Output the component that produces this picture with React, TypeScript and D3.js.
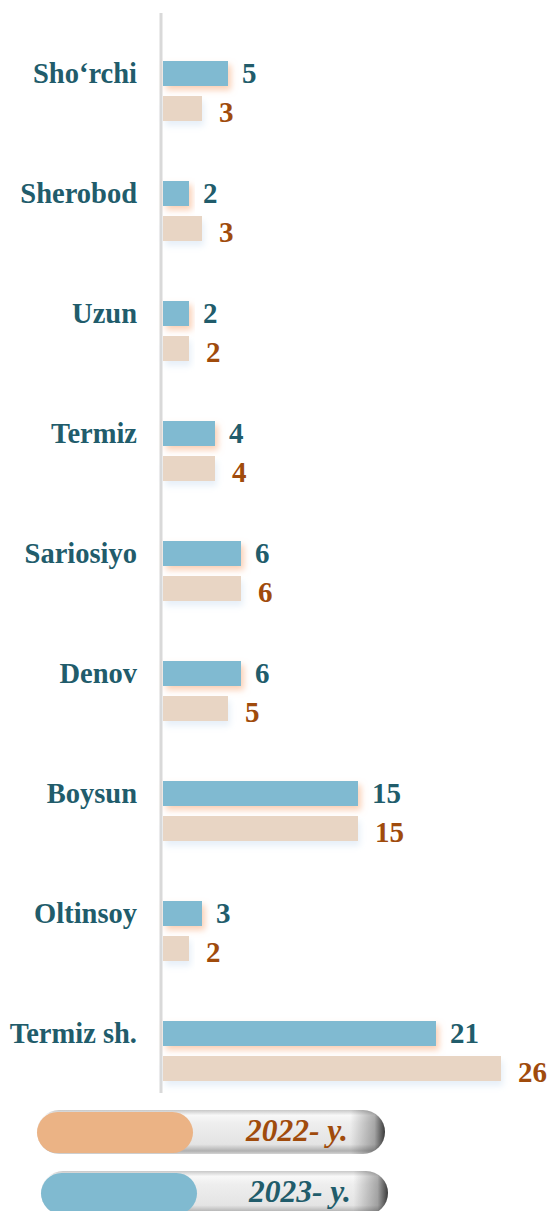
import * as d3 from "d3";

const categories = [
  "Sho‘rchi",
  "Sherobod",
  "Uzun",
  "Termiz",
  "Sariosiyo",
  "Denov",
  "Boysun",
  "Oltinsoy",
  "Termiz sh.",
];
const values2023 = [5, 2, 2, 4, 6, 6, 15, 3, 21];
const values2022 = [3, 3, 2, 4, 6, 5, 15, 2, 26];
const legendLabels = ["2022- y.", "2023- y."];

const font = "'Liberation Serif', 'Times New Roman', serif";
const teal = "#215c6b";
const brown = "#a04b0c";
const blueBar = "#80bad1";
const beigeBar = "#e8d5c4";

export default function App() {
  const width = 552;
  const height = 1211;
  const x0 = 163;
  const barH = 25;

  const xScale = d3.scaleLinear().domain([0, 26]).range([0, 338]);
  const yScale = d3
    .scaleBand()
    .domain(categories)
    .range([61, 61 + 120 * categories.length]);

  const legend = [
    { label: legendLabels[0], color: "#ebb385", text: brown, x: 37, y: 1110, w: 348 },
    { label: legendLabels[1], color: "#80bad0", text: teal, x: 41, y: 1171, w: 347 },
  ];

  return (
    <svg
      width={width}
      height={height}
      style={{ position: "absolute", left: 0, top: 0, background: "#fff" }}
    >
      <defs>
        <filter id="glowBlue" x="-20%" y="-50%" width="140%" height="220%">
          <feDropShadow dx={3} dy={4} stdDeviation={3} floodColor="#f7a877" floodOpacity={0.55} />
        </filter>
        <filter id="glowBeige" x="-20%" y="-50%" width="140%" height="220%">
          <feDropShadow dx={2} dy={5} stdDeviation={3} floodColor="#c9dbef" floodOpacity={0.45} />
        </filter>
        <linearGradient id="tube" x1="0" y1="0" x2="0" y2="1">
          <stop offset="0%" stopColor="#c8c8c8" />
          <stop offset="12%" stopColor="#f8f8f8" />
          <stop offset="30%" stopColor="#eeeeee" />
          <stop offset="78%" stopColor="#e4e4e4" />
          <stop offset="93%" stopColor="#b0b0b0" />
          <stop offset="100%" stopColor="#d4d4d4" />
        </linearGradient>
        <linearGradient id="tubeEnd" x1="0" y1="0" x2="1" y2="0">
          <stop offset="0%" stopColor="#000" stopOpacity={0} />
          <stop offset="90%" stopColor="#000" stopOpacity={0} />
          <stop offset="97%" stopColor="#000" stopOpacity={0.3} />
          <stop offset="100%" stopColor="#000" stopOpacity={0.75} />
        </linearGradient>
      </defs>

      <rect x={159.5} y={13} width={3} height={1080} fill="#d9d9d9" />

      {categories.map((c, i) => {
        const y = yScale(c) as number;
        const w23 = xScale(values2023[i]);
        const w22 = xScale(values2022[i]);
        return (
          <g key={c}>
            <text
              x={137}
              y={y + barH / 2 + 9}
              textAnchor="end"
              fontFamily={font}
              fontWeight="bold"
              fontSize={28.5}
              fill={teal}
            >
              {c}
            </text>
            <rect x={x0} y={y} width={w23} height={barH} fill={blueBar} filter="url(#glowBlue)" />
            <rect x={x0} y={y + 35} width={w22} height={barH} fill={beigeBar} filter="url(#glowBeige)" />
            <text
              x={x0 + w23 + 14}
              y={y + barH - 3}
              fontFamily={font}
              fontWeight="bold"
              fontSize={29}
              fill={teal}
            >
              {values2023[i]}
            </text>
            <text
              x={x0 + w22 + 17}
              y={y + 35 + barH + 1}
              fontFamily={font}
              fontWeight="bold"
              fontSize={29}
              fill={brown}
            >
              {values2022[i]}
            </text>
          </g>
        );
      })}

      {legend.map((l) => (
        <g key={l.label}>
          <rect x={l.x} y={l.y} width={l.w} height={44} rx={22} fill="url(#tube)" />
          <rect x={l.x} y={l.y} width={l.w} height={44} rx={22} fill="url(#tubeEnd)" />
          <rect x={l.x} y={l.y + 2} width={156} height={41} rx={20.5} fill={l.color} />
          <text
            x={l.x + l.w - 37}
            y={l.y + 31}
            textAnchor="end"
            fontFamily={font}
            fontWeight="bold"
            fontStyle="italic"
            fontSize={31.5}
            fill={l.text}
          >
            {l.label}
          </text>
        </g>
      ))}
    </svg>
  );
}
